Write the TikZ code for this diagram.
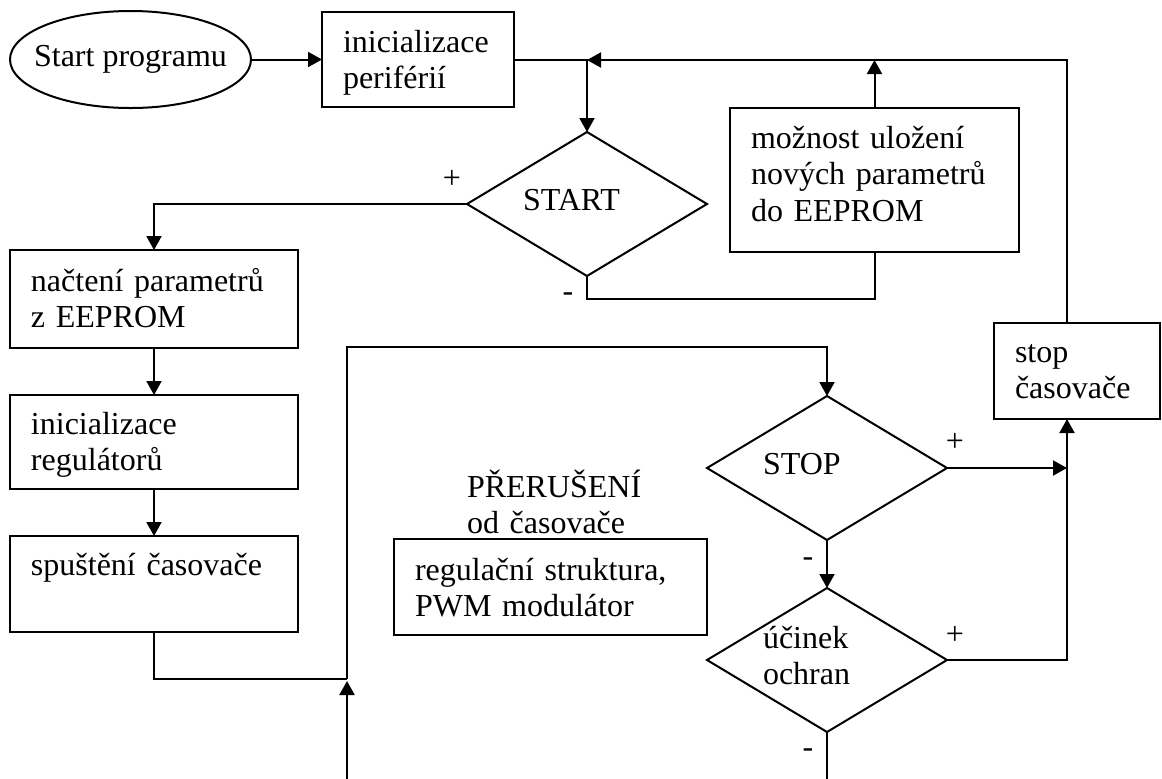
\documentclass[tikz,border=0pt]{standalone}
\usepackage{fontspec}
\setmainfont{Liberation Serif}
\usetikzlibrary{shapes.geometric,arrows.meta,calc,fit}

\begin{document}
\begin{tikzpicture}[x=0.5pt,y=-0.5pt,
  line width=1pt,
  font=\fontsize{16}{18.4}\selectfont,
  every node/.style={inner sep=0pt,outer sep=0pt},
  box/.style={draw,rectangle},
  decision/.style={draw,diamond,minimum width=120pt,minimum height=72pt},
  txt/.style={anchor=base west,text width=150pt,align=left},
  sign/.style={anchor=center},
  arr/.style={-{Triangle[length=7pt,width=7.5pt]}}]

\useasboundingbox (0,0) rectangle (1162,778);

% terminal and process boxes
\node[draw,ellipse,minimum width=120.5pt,minimum height=48.5pt] (begin) at (130.5,59.5) {};
\node (beginT) at (begin.center) {Start programu};

\node[box,fit={(322,12)(514,107)}] (init) {};
\node[box,fit={(730,108)(1019,252)}] (save) {};
\node[box,fit={(10,250)(298,348)}] (read) {};
\node[box,fit={(10,395)(298,489)}] (reg) {};
\node[box,fit={(10,536)(298,632)}] (timer) {};
\node[box,fit={(394,539)(707,635)}] (ctrl) {};
\node[box,fit={(994,323)(1160,419)}] (halt) {};

% decisions
\node[decision] (start) at (587,204) {};
\node[decision] (stop) at (827,468) {};
\node[decision] (prot) at (827,660) {};

% texts
\node[txt] (initT) at ($(init.north west)+(21,40)$) {inicializace\\periférií};
\node[txt] (saveT) at ($(save.north west)+(21,40)$) {možnost uložení\\nových parametrů\\do EEPROM};
\node[txt] (readT) at ($(read.north west)+(21,41)$) {načtení parametrů\\z EEPROM};
\node[txt] (regT) at ($(reg.north west)+(21,39)$) {inicializace\\regulátorů};
\node[txt] (timerT) at ($(timer.north west)+(21,39)$) {spuštění časovače};
\node[txt] (ctrlT) at ($(ctrl.north west)+(21,41)$) {regulační struktura,\\PWM modulátor};
\node[txt] (haltT) at ($(halt.north west)+(21,39)$) {stop\\časovače};
\node[txt] (irqT) at (467,497) {PŘERUŠENÍ\\od časovače};

\node[txt] (startT) at ($(start.west)+(56,6)$) {START};
\node[txt] (stopT) at ($(stop.west)+(56,6)$) {STOP};
\node[txt] (protT) at ($(prot.west)+(56,-12)$) {účinek\\ochran};

% branch signs
\node[sign] (sP) at (452,179) {+};
\node[sign] (sM) at (568,297) {-};
\node[sign] (tP) at (955,442) {+};
\node[sign] (tM) at (808,562) {-};
\node[sign] (pP) at (955,635) {+};
\node[sign] (pM) at (808,753) {-};

% auxiliary points of the wiring
\coordinate (J) at (587,60);
\coordinate (M) at (347,679);
\coordinate (loop) at (347,347);
\coordinate (B1) at (347,780);
\coordinate (B2) at (827,780);
\coordinate (haltIn) at ($(halt.south west)+(73,0)$);
\coordinate (haltOut) at ($(halt.north west)+(73,0)$);

% connectors
\draw[arr] (begin.east) -- (init.west);
\draw[arr] (init.east) -| (start.north);
\draw[arr] (haltOut) |- (J);
\draw[arr] (save.north) -- (save.north |- J);
\draw[arr] (start.west) -| (read.north);
\draw (start.south) -- ++(0,23) -| (save.south);
\draw[arr] (read.south) -- (reg.north);
\draw[arr] (reg.south) -- (timer.north);
\draw (timer.south) |- (M);
\draw[arr] (B1) -- ($(M)+(0,2)$);
\draw[arr] (M) -- (loop) -| (stop.north);
\draw[arr] (stop.east) -- (stop.east -| haltIn);
\draw[arr] (stop.south) -- (prot.north);
\draw[arr] (prot.east) -| (haltIn);
\draw (prot.south) -- (B2);
\end{tikzpicture}
\end{document}
